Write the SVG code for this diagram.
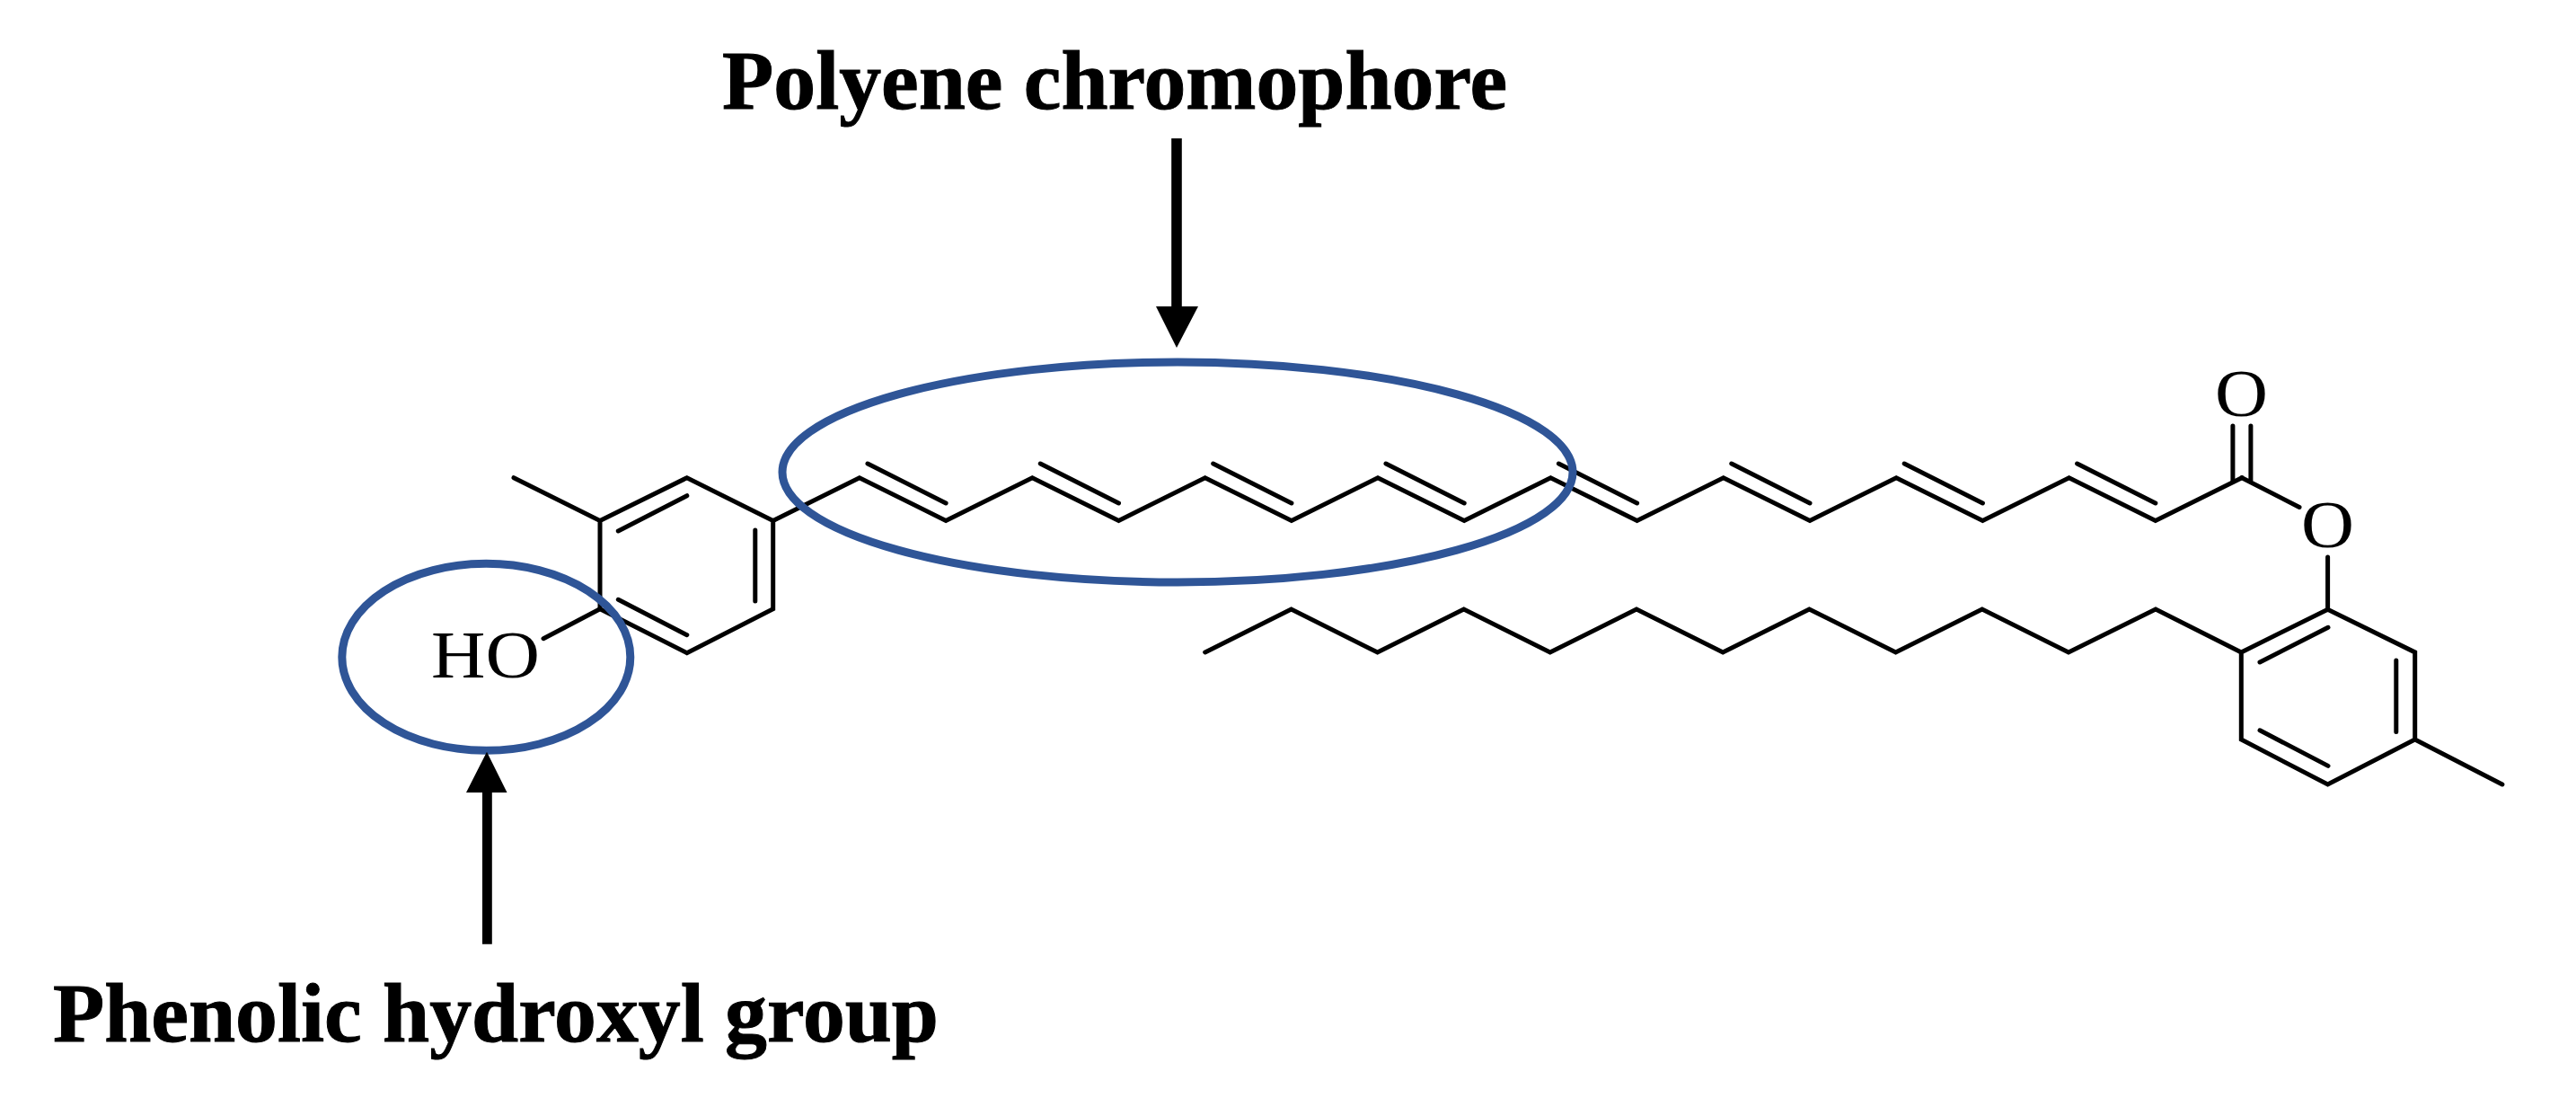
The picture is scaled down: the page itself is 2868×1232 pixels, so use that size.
<svg xmlns="http://www.w3.org/2000/svg" width="2868" height="1232" viewBox="0 0 2868 1232">
<style>
.b{fill:none;stroke:#000;stroke-width:5;stroke-linecap:round;stroke-linejoin:miter}
.e{fill:none;stroke:#2F5597;stroke-width:9}
.a{fill:#000;stroke:none}
.t{font-family:"Liberation Serif","Times New Roman",serif;font-weight:700;font-size:94px;fill:#000;stroke:#000;stroke-width:1}
.l{font-family:"Liberation Serif","Times New Roman",serif;font-size:74px;fill:#000}
</style>
<rect width="2868" height="1232" fill="#fff"/>
<g id="molecule">
<path class="b" d="M572 531.7L668 579.5V677.7L764.8 726.7L860.7 677.7V579.5L764.8 531.7L668 579.5"/>
<path class="b" d="M688.3 591L764.8 551.7M840.8 590V669M688.3 667.3L764.8 706.7M668 677.7L605 710.7"/>
<path class="b" d="M860.7 579.5L956.9 531.7L1053.1 579.5L1149.3 531.7L1245.5 579.5L1341.7 531.7L1437.9 579.5L1534 531.7L1630.2 579.5L1726.4 531.7L1822.6 579.5L1918.8 531.7L2015 579.5L2111.2 531.7L2207.4 579.5L2303.6 531.7L2399.8 579.5L2496 531.7"/>
<path class="b" d="M966 516L1053.1 560M1158.3 516L1245.5 560M1350.7 516L1437.9 560M1543 516L1630.2 560M1735.4 516L1822.6 560M1927.8 516L2015 560M2120.2 516L2207.4 560M2312.6 516L2399.8 560"/>
<path class="b" d="M2485.9 474V536M2505.9 474V536M2496 531.7L2560 564.5M2591.6 620V678.3"/>
<path class="b" d="M1341.7 726L1437.6 678L1533.6 726L1629.7 678L1725.8 726L1822 678L1918.2 726L2014.4 678L2110.6 726L2206.8 678L2303 726L2400 678L2495.3 726"/>
<path class="b" d="M2495.3 725.9L2591.6 678.3L2688.7 725.9V823L2591.6 873L2495.3 823V725.9M2516 737L2592 698.3M2667.8 735V814.5M2516 812.8L2592 852.4M2688.7 823L2785.9 873"/>
</g>
<g id="atom-labels">
<text class="l" x="480" y="754" textLength="121" lengthAdjust="spacingAndGlyphs">HO</text>
<text class="l" x="2466" y="463" textLength="59" lengthAdjust="spacingAndGlyphs">O</text>
<text class="l" x="2562" y="609" textLength="59" lengthAdjust="spacingAndGlyphs">O</text>
</g>
<g id="highlight-polyene"><ellipse class="e" cx="1311" cy="525.5" rx="440" ry="122.5"/></g>
<g id="highlight-hydroxyl"><ellipse class="e" cx="541.3" cy="731.3" rx="160.5" ry="104"/></g>
<g id="connectors">
<path class="a" d="M1304.2 154H1315.8V341H1334L1310 387L1287 341H1304.2Z"/>
<path class="a" d="M537 1050.7H547.8V882H564.5L542 836.7L519 882H537Z"/>
</g>
<g id="label-polyene"><text class="t" x="804" y="120.7" textLength="874" lengthAdjust="spacingAndGlyphs">Polyene chromophore</text></g>
<g id="label-phenolic"><text class="t" x="59" y="1159" textLength="986" lengthAdjust="spacingAndGlyphs">Phenolic hydroxyl group</text></g>
</svg>
